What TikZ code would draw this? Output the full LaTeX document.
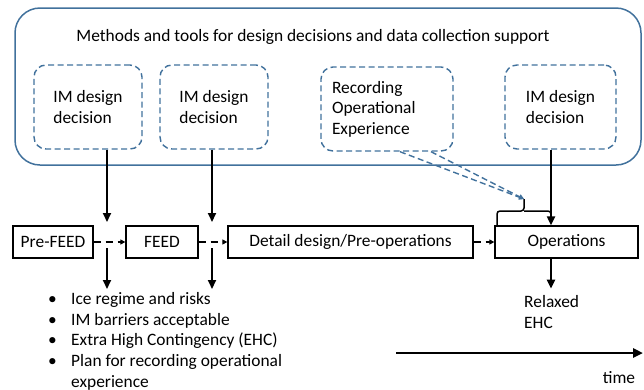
\documentclass[tikz,border=0pt]{standalone}
\usepackage{fontspec}
\setmainfont{Carlito}
\usetikzlibrary{arrows.meta,calc}
\definecolor{frameblue}{HTML}{41719C}
\begin{document}
\begin{tikzpicture}[x=1pt,y=-1pt,
  font=\fontsize{17.4}{20.6}\selectfont,
  panel/.style={draw=frameblue, line width=1.5pt, rounded corners=25pt, inner sep=0pt},
  dbox/.style={draw=frameblue, line width=1.4pt, dash pattern=on 6pt off 3.5pt,
    rounded corners=12pt, minimum height=84pt, align=left, inner ysep=0pt},
  pbox/.style={draw, line width=1.3pt, minimum height=32pt, inner sep=0pt},
  harrow/.style={line width=1.3pt, dash pattern=on 7pt off 5pt,
    -{Triangle[length=5pt,width=5pt]}},
  varrow/.style={line width=2pt, -{Triangle[length=9pt,width=8pt]}},
  barrow/.style={draw=frameblue, line width=1.4pt, dash pattern=on 6pt off 3.5pt,
    -{Triangle[length=5pt,width=5pt]}},
  label/.style={inner sep=0pt, align=left}]
\useasboundingbox (0,0) rectangle (644,389);

% frame holding the methods and tools
\node[panel, minimum width=626pt, minimum height=157pt] (frame) at (328,86.5) {};
\node[label, anchor=base] (title) at (313,41)
  {Methods and tools for design decisions and data collection support};

% design decision and data collection boxes
\node[dbox, minimum width=108pt] (im1) at (88,107) {IM design\\decision};
\node[dbox, minimum width=108pt] (im2) at (214,107) {IM design\\decision};
\node[dbox, text width=110pt, inner xsep=11pt] (rec) at (387,109)
  {Recording\\Operational\\Experience};
\node[dbox, minimum width=111pt] (im4) at (560.5,107) {IM design\\decision};

% project phases
\node[pbox, minimum width=80pt] (pre) at (53,242) {Pre-FEED};
\node[pbox, minimum width=72pt] (feed) at (162,242) {FEED};
\node[pbox, minimum width=245pt] (detail) at (350.5,242) {Detail design/Pre-operations};
\node[pbox, minimum width=143pt] (ops) at (566.5,242) {Operations};

\draw[harrow] (pre) -- (feed);
\draw[harrow] (feed) -- (detail);
\draw[harrow] (detail) -- (ops);

% decision gates between phases
\coordinate (g1) at (107,242);
\coordinate (g2) at (212,242);
\coordinate (g4) at (551,242);
\draw[varrow] (im1.south -| g1) -- ($(g1)+(0,-20)$);
\draw[varrow] (im2.south -| g2) -- ($(g2)+(0,-20)$);
\draw[varrow] ($(g1)+(0,6)$) -- ($(g1)+(0,47)$);
\draw[varrow] ($(g2)+(0,6)$) -- ($(g2)+(0,47)$);

% brace gathering the inputs to operations
\coordinate (brl) at (497,225);
\coordinate (brtip) at (524,199);
\coordinate (brr) at (551,222);
\draw[line width=1.5pt, rounded corners=3pt]
  (brl) -- (497,211) -- (524,211) -- (brtip);
\draw[line width=1.5pt, rounded corners=3pt]
  (524,211) -- (551,211) -- (brr);

\draw[varrow] (im4.south -| g4) -- (ops.north -| g4);
\draw[varrow] (ops.south -| g4) -- ($(ops.south -| g4)+(0,30)$);

% recorded experience feeding operations
\draw[barrow] ($(rec.south)+(13,0)$) -- (brtip);
\draw[barrow] ($(rec.south)+(44,0)$) -- (brtip);

% outcomes (anchored at the baseline of the last line)
\node[label, anchor=base west] (list) at (48,387)
  {\makebox[23pt][l]{\textbullet}Ice regime and risks\\
   \makebox[23pt][l]{\textbullet}IM barriers acceptable\\
   \makebox[23pt][l]{\textbullet}Extra High Contingency (EHC)\\
   \makebox[23pt][l]{\textbullet}Plan for recording operational\\
   \makebox[23pt][l]{}experience};
\node[label, anchor=base west] (relax) at (524,328) {Relaxed\\EHC};

% time axis
\coordinate (t0) at (396,353);
\coordinate (t1) at (643,353);
\draw[line width=2.5pt, -{Triangle[length=10pt,width=9pt]}] (t0) -- (t1);
\node[label, anchor=base] (time) at (619,383) {time};
\end{tikzpicture}
\end{document}
